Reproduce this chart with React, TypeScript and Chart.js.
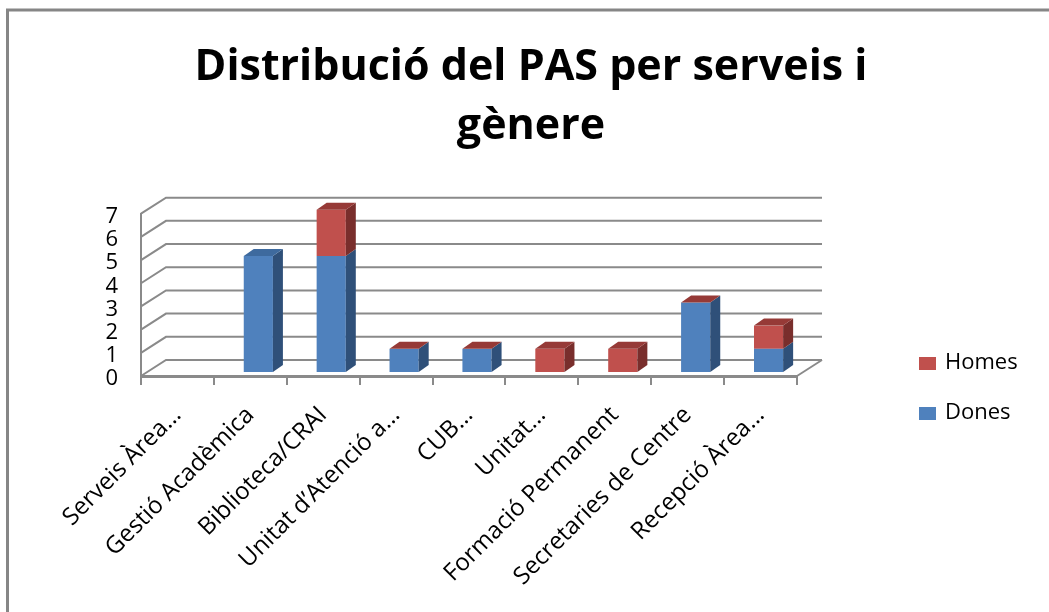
import { useEffect, useRef } from 'react';
import { Chart, registerables } from 'chart.js';

Chart.register(...registerables);

const categories = [
  'Serveis Àrea…',
  'Gestió Acadèmica',
  'Biblioteca/CRAI',
  'Unitat d’Atenció a…',
  'CUB…',
  'Unitat…',
  'Formació Permanent',
  'Secretaries de Centre',
  'Recepció Àrea…',
];
const dones: (number | null)[] = [null, 5, 5, 1, 1, null, null, 3, 1];
const homes: (number | null)[] = [null, null, 2, 0, 0, 1, 1, 0, 1];
const yMax = 7;
const titleLines = ['Distribució del PAS per serveis i', 'gènere'];

const BLUE = { front: '#4F81BD', side: '#2F5079', top: '#3E6A9E' };
const RED = { front: '#C0504D', side: '#792E2C', top: '#963A37' };
const GRID = '#8A8A8A';
const FONT = 'Open Sans';

// 3D look
const WALL_DX = 25;
const WALL_DY = -16;
const BAR_SHIFT_X = 8;
const BAR_SHIFT_Y = -4;
const BAR_DX = 10;
const BAR_DY = -7;

const palettes = [BLUE, RED];

const threeD = {
  id: 'threeD',
  beforeDatasetsDraw(chart: any) {
    const { ctx, chartArea, scales } = chart;
    const y = scales.y;
    const { left, right, bottom } = chartArea;
    ctx.save();
    ctx.lineWidth = 2;
    ctx.strokeStyle = GRID;
    y.ticks.forEach((t: any) => {
      const py = y.getPixelForValue(t.value);
      ctx.beginPath();
      ctx.moveTo(left, py);
      ctx.lineTo(left + WALL_DX, py + WALL_DY);
      ctx.lineTo(right + WALL_DX, py + WALL_DY);
      ctx.stroke();
    });
    ctx.beginPath();
    ctx.moveTo(right, bottom);
    ctx.lineTo(right + WALL_DX, bottom + WALL_DY);
    ctx.stroke();
    ctx.restore();
    ctx.save();
    ctx.translate(BAR_SHIFT_X, BAR_SHIFT_Y);
  },
  afterDatasetsDraw(chart: any) {
    const { ctx } = chart;
    const n = chart.data.labels.length;
    const nd = chart.data.datasets.length;
    for (let i = 0; i < n; i++) {
      let topIdx = -1;
      for (let d = 0; d < nd; d++) {
        if (chart.data.datasets[d].data[i] != null) topIdx = d;
      }
      for (let d = 0; d < nd; d++) {
        const v = chart.data.datasets[d].data[i];
        if (v == null) continue;
        const el = chart.getDatasetMeta(d).data[i];
        const p = el.getProps(['x', 'y', 'base', 'width'], true);
        const l = p.x - p.width / 2;
        const r = p.x + p.width / 2;
        const top = Math.min(p.y, p.base);
        const bot = Math.max(p.y, p.base);
        const pal = palettes[d];
        ctx.fillStyle = pal.side;
        ctx.beginPath();
        ctx.moveTo(r, top);
        ctx.lineTo(r + BAR_DX, top + BAR_DY);
        ctx.lineTo(r + BAR_DX, bot + BAR_DY);
        ctx.lineTo(r, bot);
        ctx.closePath();
        ctx.fill();
        if (d === topIdx) {
          ctx.fillStyle = pal.top;
          ctx.beginPath();
          ctx.moveTo(l, top);
          ctx.lineTo(l + BAR_DX, top + BAR_DY);
          ctx.lineTo(r + BAR_DX, top + BAR_DY);
          ctx.lineTo(r, top);
          ctx.closePath();
          ctx.fill();
        }
      }
    }
    ctx.restore();
  },
  afterDraw(chart: any) {
    const { ctx, chartArea } = chart;
    ctx.save();
    ctx.strokeStyle = '#868686';
    ctx.lineWidth = 3;
    ctx.beginPath();
    ctx.moveTo(7.5, chart.height);
    ctx.lineTo(7.5, 10);
    ctx.lineTo(chart.width, 10);
    ctx.stroke();
    const ds = chart.data.datasets;
    ctx.font = `22px "${FONT}"`;
    ctx.textBaseline = 'middle';
    ctx.textAlign = 'left';
    const lx = chartArea.right + 122;
    const ly0 = chartArea.bottom - 13;
    for (let k = 0; k < ds.length; k++) {
      const d = ds.length - 1 - k;
      const cy = ly0 + k * 50;
      ctx.fillStyle = ds[d].backgroundColor;
      ctx.fillRect(lx, cy - 6, 17, 13);
      ctx.fillStyle = '#000';
      ctx.fillText(ds[d].label, lx + 26, cy);
    }
    ctx.restore();
  },
};

export default function App() {
  const ref = useRef<HTMLCanvasElement>(null);
  useEffect(() => {
    if (!ref.current) return;
    const chart = new Chart(ref.current, {
      type: 'bar',
      data: {
        labels: categories,
        datasets: [
          { label: 'Dones', data: dones, backgroundColor: BLUE.front, clip: false } as any,
          { label: 'Homes', data: homes, backgroundColor: RED.front, clip: false } as any,
        ],
      },
      options: {
        animation: false,
        responsive: false,
        maintainAspectRatio: false,
        events: [],
        layout: { padding: { left: 13, right: 0, top: 0, bottom: 0 } },
        datasets: { bar: { categoryPercentage: 1, barPercentage: 0.4 } },
        plugins: {
          legend: { display: false },
          tooltip: { enabled: false },
          title: {
            display: true,
            text: titleLines,
            color: '#000',
            font: { family: FONT, size: 43, weight: 'bold', lineHeight: 1.38 },
            padding: { top: 38, bottom: 57 },
          },
        },
        scales: {
          x: {
            stacked: true,
            afterFit: (s: any) => { s.height = 236; },
            grid: { display: true, drawOnChartArea: false, drawTicks: true, tickLength: 9, color: GRID, lineWidth: 2, offset: true },
            border: { display: true, color: GRID, width: 3 },
            ticks: {
              autoSkip: false,
              minRotation: 45,
              maxRotation: 45,
              padding: 16,
              color: '#000',
              font: { family: FONT, size: 24 },
            },
          },
          y: {
            stacked: true,
            min: 0,
            max: yMax,
            afterFit: (s: any) => { s.width = 128; },
            grid: { display: false, drawTicks: false },
            border: { display: true, color: GRID, width: 2 },
            ticks: {
              autoSkip: false,
              stepSize: 1,
              padding: 23,
              labelOffset: 3,
              color: '#000',
              font: { family: FONT, size: 22 },
            },
          },
          legendSpace: {
            type: 'linear',
            position: 'right',
            min: 0,
            max: 1,
            afterFit: (s: any) => { s.width = 252; },
            grid: { display: false, drawTicks: false },
            border: { display: false },
            ticks: { display: false },
          },
        },
      } as any,
      plugins: [threeD],
    });
    return () => chart.destroy();
  }, []);
  return (
    <div style={{ position: 'fixed', left: 0, top: 0, width: 1049, height: 612, background: '#fff' }}>
      <canvas ref={ref} width={1049} height={612} style={{ width: 1049, height: 612 }} />
    </div>
  );
}
